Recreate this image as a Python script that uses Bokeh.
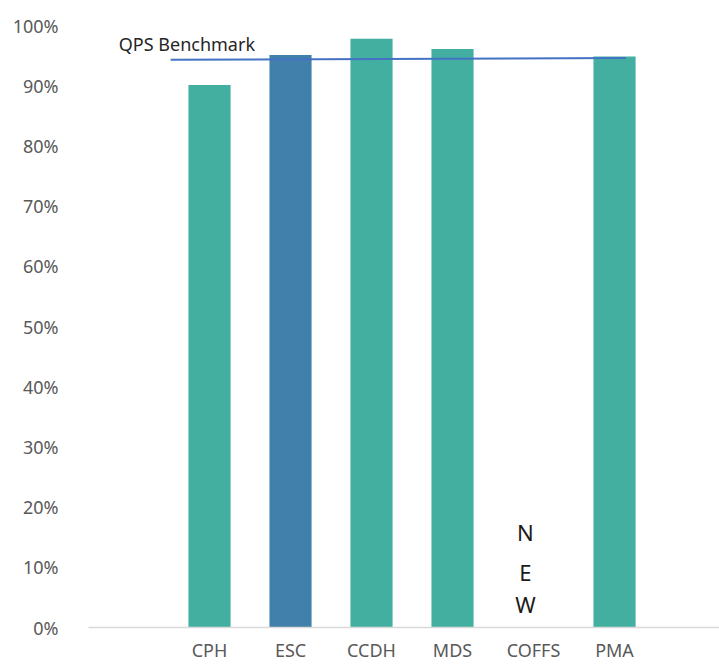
from bokeh.plotting import figure
from bokeh.models import Range1d, FixedTicker, ColumnDataSource
from bokeh.core.properties import value
from bokeh.embed import file_html
from bokeh.resources import INLINE

categories = ["CPH", "ESC", "CCDH", "MDS", "COFFS", "PMA"]
scores = [90.1, 95.1, 97.8, 96.1, None, 94.85]
bar_colors = ["#43AFA0", "#4080AA", "#43AFA0", "#43AFA0", "#43AFA0", "#43AFA0"]
benchmark_x = [-0.48, 5.14]
benchmark_y = [94.3, 94.6]
benchmark_label = "QPS Benchmark"
new_letters = ["N", "E", "W"]
new_letter_y = [15.9, 9.3, 3.9]
y_ticks = [0, 10, 20, 30, 40, 50, 60, 70, 80, 90, 100]

xs = [i for i, v in enumerate(scores) if v is not None]
src = ColumnDataSource(dict(
    x=xs,
    top=[scores[i] for i in xs],
    color=[bar_colors[i] for i in xs],
))

p = figure(width=719, height=664, output_backend="svg", toolbar_location=None,
           x_range=Range1d(-1.494, 6.296), y_range=Range1d(0, 100),
           min_border_left=88, min_border_right=0, min_border_top=25,
           min_border_bottom=37)
p.outline_line_color = None
p.xgrid.grid_line_color = None
p.ygrid.grid_line_color = None
p.background_fill_color = "white"
p.border_fill_color = "white"

p.vbar(x="x", top="top", width=0.52, bottom=0, color="color", source=src,
       line_color=None)

p.line(benchmark_x, benchmark_y, line_color="#4472C4", line_width=2)

p.text(x=[-1.12], y=[96.9], text=[benchmark_label], text_font=value("Noto Sans"),
       text_font_size="18px", text_color="#262626", text_baseline="middle",
       text_align="left")

coffs = categories.index("COFFS")
p.text(x=[coffs - 0.1] * len(new_letters), y=new_letter_y, text=new_letters,
       text_font=value("Noto Sans"), text_font_size="22px", text_color="#1a1a1a",
       text_baseline="middle", text_align="center")

# axes
p.yaxis.ticker = FixedTicker(ticks=y_ticks)
p.yaxis.major_label_overrides = {t: f"{t}%" for t in y_ticks}
p.yaxis.axis_line_color = None
p.yaxis.major_tick_line_color = None
p.yaxis.minor_tick_line_color = None
p.yaxis.major_label_text_font = "Noto Sans"
p.yaxis.major_label_text_font_size = "18px"
p.yaxis.major_label_text_color = "#595959"
p.yaxis.major_label_standoff = 24

p.xaxis.ticker = FixedTicker(ticks=list(range(len(categories))))
p.xaxis.major_label_overrides = {i: c for i, c in enumerate(categories)}
p.xaxis.axis_line_color = "#D9D9D9"
p.xaxis.axis_line_width = 1.5
p.xaxis.major_tick_line_color = None
p.xaxis.minor_tick_line_color = None
p.xaxis.major_tick_out = 0
p.xaxis.major_tick_in = 0
p.xaxis.minor_tick_out = 0
p.xaxis.major_label_text_font = "Noto Sans"
p.xaxis.major_label_text_font_size = "18px"
p.xaxis.major_label_text_color = "#595959"
p.xaxis.major_label_standoff = 10

open("out.html", "w").write(file_html(p, INLINE))
